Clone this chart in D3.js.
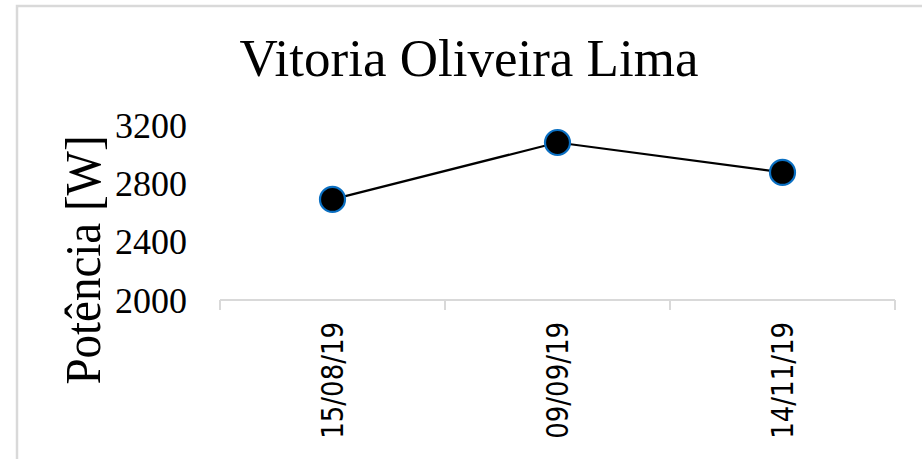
<!DOCTYPE html>
<html>
<head>
<meta charset="utf-8">
<script src="https://cdn.jsdelivr.net/npm/d3@7"></script>
<style>
  html, body { margin: 0; padding: 0; background: #fff; }
  svg { display: block; }
</style>
</head>
<body>
<svg id="chart" width="922" height="459"></svg>
<script>
// Measurement dates and power readings (W)
const dates = ["15/08/19", "09/09/19", "14/11/19"];
const potencia = [2690, 3080, 2875];
const yTicks = [2000, 2400, 2800, 3200];
const chartTitle = "Vitoria Oliveira Lima";
const yTitle = "Potência [W]";

const svg = d3.select("#chart");
const W = 922, H = 459;
const serif = "'Liberation Serif', 'Times New Roman', serif";

// Chart frame (only left and top edges fall inside the view)
svg.append("rect")
  .attr("x", 17).attr("y", 6)
  .attr("width", W + 20).attr("height", H + 20)
  .attr("fill", "#fff")
  .attr("stroke", "#d9d9d9")
  .attr("stroke-width", 2.5);

const plot = { left: 220, right: 895, top: 125, bottom: 300 };

const x = d3.scaleBand()
  .domain(dates)
  .range([plot.left, plot.right])
  .paddingInner(0).paddingOuter(0);

const y = d3.scaleLinear()
  .domain([2000, 3200])
  .range([plot.bottom, plot.top]);

// Title
svg.append("text")
  .attr("x", 469).attr("y", 76)
  .attr("text-anchor", "middle")
  .attr("font-family", serif)
  .attr("font-size", 53)
  .attr("fill", "#000")
  .text(chartTitle);

// Y axis title
svg.append("text")
  .attr("transform", "translate(83,260) rotate(-90) scale(1,1.1)")
  .attr("text-anchor", "middle")
  .attr("dominant-baseline", "central")
  .attr("font-family", serif)
  .attr("font-size", 47)
  .attr("fill", "#000")
  .text(yTitle);

// Y axis: labels only
const yAxis = d3.axisLeft(y).tickValues(yTicks).tickSize(0).tickPadding(0).tickFormat(d3.format("d"));
const gy = svg.append("g")
  .attr("transform", "translate(187,0)")
  .call(yAxis);
gy.select(".domain").remove();
gy.selectAll("text")
  .attr("font-family", serif)
  .attr("font-size", 36)
  .attr("fill", "#000")
  .attr("dy", "0.34em");

// X axis: baseline with boundary ticks between categories
const gx = svg.append("g")
  .attr("transform", `translate(0,${plot.bottom})`);
gx.append("line")
  .attr("x1", plot.left).attr("x2", plot.right)
  .attr("y1", 0).attr("y2", 0)
  .attr("stroke", "#d9d9d9").attr("stroke-width", 2);
const bounds = dates.map(d => x(d)).concat([x(dates[dates.length - 1]) + x.bandwidth()]);
gx.selectAll("line.tick")
  .data(bounds)
  .join("line")
  .attr("class", "tick")
  .attr("x1", d => d).attr("x2", d => d)
  .attr("y1", 0).attr("y2", 10)
  .attr("stroke", "#d9d9d9").attr("stroke-width", 2);

gx.selectAll("text.lab")
  .data(dates)
  .join("text")
  .attr("class", "lab")
  .attr("transform", d => `translate(${x(d) + x.bandwidth() / 2},22) rotate(-90) scale(1,1.15)`)
  .attr("text-anchor", "end")
  .attr("dominant-baseline", "central")
  .attr("font-family", "'DejaVu Sans', sans-serif")
  .attr("font-size", 26)
  .attr("fill", "#000")
  .text(d => d);

// Series line and markers
const cx = d => x(d) + x.bandwidth() / 2;
const line = d3.line()
  .x((d, i) => cx(dates[i]))
  .y(d => y(d));

svg.append("path")
  .datum(potencia)
  .attr("d", line)
  .attr("fill", "none")
  .attr("stroke", "#000")
  .attr("stroke-width", 2.2);

svg.selectAll("circle.pt")
  .data(potencia)
  .join("circle")
  .attr("class", "pt")
  .attr("cx", (d, i) => cx(dates[i]))
  .attr("cy", d => y(d))
  .attr("r", 12.5)
  .attr("fill", "#000")
  .attr("stroke", "#0a6fc2")
  .attr("stroke-width", 2.2);
</script>
</body>
</html>
